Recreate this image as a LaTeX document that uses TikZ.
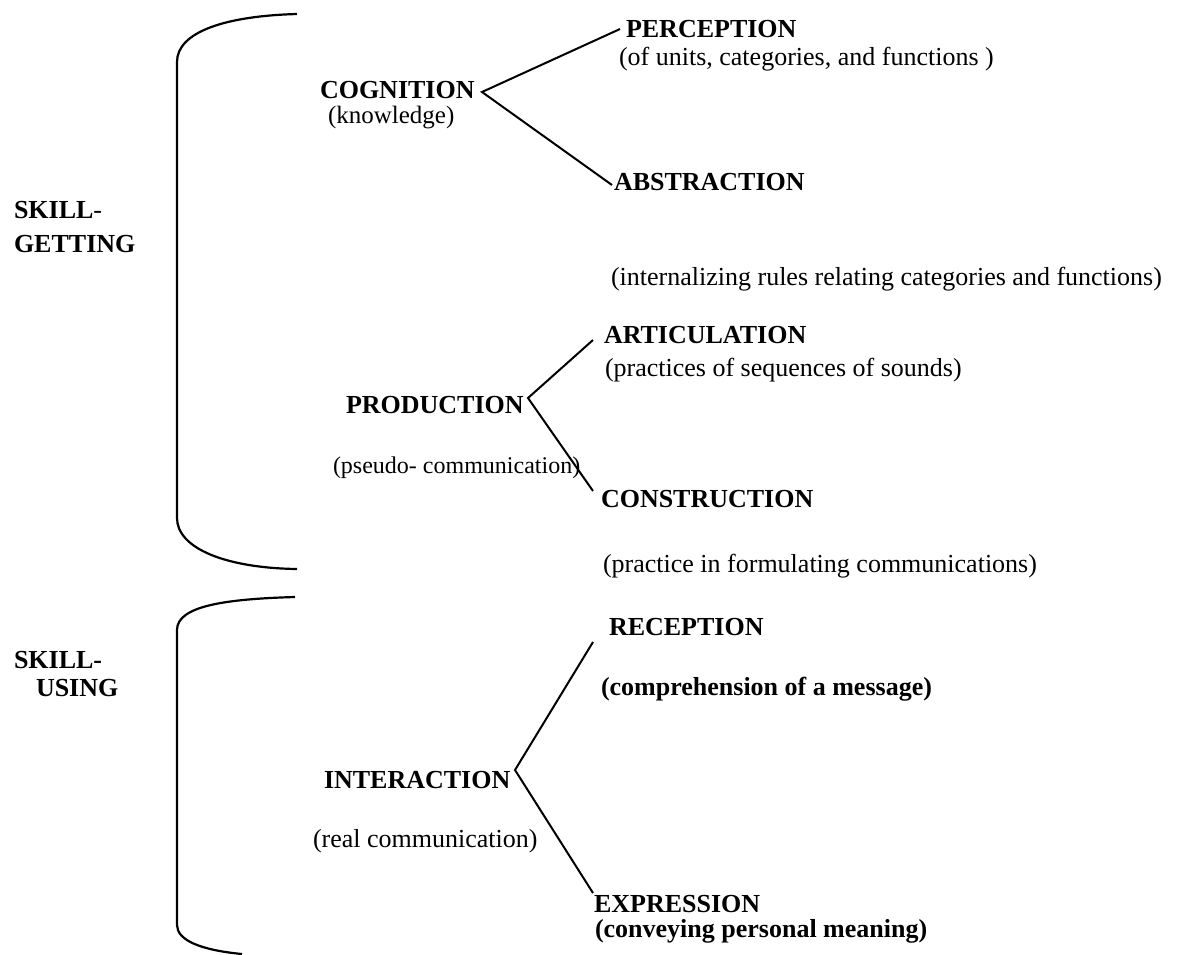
\documentclass[tikz,border=0pt]{standalone}
\usepackage{fontspec}
\setmainfont{Liberation Serif}

\tikzset{
	titre/.style={anchor=base west, inner sep=0pt, font=\fontsize{13}{15}\selectfont\bfseries},
	glose/.style={anchor=base west, inner sep=0pt, font=\fontsize{#1}{15}\selectfont},
	glose/.default=13,
	accolade/.style={line width=1.1pt},
}

\begin{document}
\begin{tikzpicture}[x=0.5pt,y=-0.5pt,line width=1pt]
	\useasboundingbox (0,0) rectangle (1187,954);

	% accolades
	\draw [accolade] (297,14) .. controls (225,16) and (177,32) .. (177,62) -- (177,518)
		.. controls (177,548) and (225,568) .. (297,569);
	\draw [accolade] (295,597) .. controls (225,599) and (177,606) .. (177,630) -- (177,925)
		.. controls (177,940) and (200,950) .. (242,954);

	% skill-getting
	\node [titre] (sg1) at (13,218) {SKILL\textmd{-}};
	\node [titre] (sg2) at (13,252) {GETTING};

	\node [titre] (cog) at (319,98) {COGNITION};
	\node [glose=12.5] (cogg) at (327,123) {(knowledge)};
	\node [titre] (perc) at (625,37) {PERCEPTION};
	\node [glose] (percg) at (618,65) {(of units, categories, and functions )};
	\node [titre] (abst) at (613,190) {ABSTRACTION};
	\node [glose] (abstg) at (610,285) {(internalizing rules relating categories and functions)};

	\node [titre] (prod) at (345,413) {PRODUCTION};
	\node [glose=12] (prodg) at (332,473) {(pseudo- communication)};
	\node [titre] (arti) at (603,343) {ARTICULATION};
	\node [glose] (artig) at (604,376) {(practices of sequences of sounds)};
	\node [titre] (cons) at (600,507) {CONSTRUCTION};
	\node [glose] (consg) at (602,572) {(practice in formulating communications)};

	% skill-using
	\node [titre] (su1) at (13,668) {SKILL-};
	\node [titre] (su2) at (35,696) {USING};

	\node [titre] (inter) at (323,788) {INTERACTION};
	\node [glose] (interg) at (312,847) {(real communication)};
	\node [titre] (recep) at (608,635) {RECEPTION};
	\node [titre] (recepg) at (600,695) {(comprehension of a message)};
	\node [titre] (expr) at (593,912) {EXPRESSION};
	\node [titre] (exprg) at (594,937) {(conveying personal meaning)};

	% branches
	\coordinate (cogv) at (482,92);
	\coordinate (percv) at (620,29);
	\coordinate (abstv) at (612,185);
	\draw [-] (percv) -- (cogv) -- (abstv);

	\coordinate (prodv) at (528,398);
	\coordinate (artiv) at (593,340);
	\coordinate (consv) at (593,491);
	\draw [-] (artiv) -- (prodv) -- (consv);

	\coordinate (interv) at (515,770);
	\coordinate (recepv) at (593,642);
	\coordinate (exprv) at (593,893);
	\draw [-] (recepv) -- (interv) -- (exprv);
\end{tikzpicture}
\end{document}
